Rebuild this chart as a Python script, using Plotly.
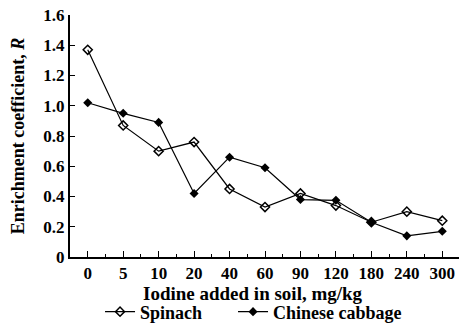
import plotly.graph_objects as go

categories = ["0", "5", "10", "20", "40", "60", "90", "120", "180", "240", "300"]
spinach = [1.37, 0.87, 0.70, 0.76, 0.45, 0.33, 0.42, 0.34, 0.23, 0.30, 0.24]
cabbage = [1.02, 0.95, 0.89, 0.42, 0.66, 0.59, 0.38, 0.375, 0.23, 0.14, 0.17]
y_ticks = [0, 0.2, 0.4, 0.6, 0.8, 1.0, 1.2, 1.4, 1.6]
y_ticktext = ["0", "0.2", "0.4", "0.6", "0.8", "1.0", "1.2", "1.4", "1.6"]
x_title = "Iodine added in soil, mg/kg"
y_title = "Enrichment coefficient, <i>R</i>"

xpos = list(range(len(categories)))
FONT = "Liberation Serif"
TICK_FS = 17
TITLE_FS = 18

fig = go.Figure()
fig.add_trace(go.Scatter(
    x=xpos, y=spinach, name="Spinach", mode="lines+markers", legend="legend",
    line=dict(color="black", width=1.2),
    marker=dict(symbol="diamond-open", size=7, color="black", line=dict(width=1.5, color="black")),
))
fig.add_trace(go.Scatter(
    x=xpos, y=cabbage, name="Chinese cabbage", mode="lines+markers", legend="legend2",
    line=dict(color="black", width=1.2),
    marker=dict(symbol="diamond", size=7, color="black"),
))

legend_common = dict(orientation="h", y=-0.227, yanchor="middle", xanchor="left",
                     font=dict(family=FONT, size=TITLE_FS, color="black", weight="bold"),
                     itemwidth=30, tracegroupgap=0, bgcolor="rgba(0,0,0,0)")

fig.update_layout(
    width=459, height=345,
    margin=dict(l=62, r=7, t=7, b=96),
    paper_bgcolor="white", plot_bgcolor="white",
    font=dict(family=FONT, size=TITLE_FS, color="black"),
    showlegend=True,
    legend=dict(x=0.077, **legend_common),
    legend2=dict(x=0.418, **legend_common),
    annotations=[dict(text=x_title, xref="paper", yref="paper", x=0.469, y=-0.149,
                      xanchor="center", yanchor="middle", showarrow=False,
                      font=dict(family=FONT, size=19, color="black", weight="bold"))],
)
fig.update_xaxes(
    automargin=False,
    range=[-0.5, 10.5], tickmode="array", tickvals=xpos, ticktext=categories,
    showline=True, linecolor="black", linewidth=2, mirror=False,
    showgrid=False, zeroline=False,
    ticks="inside", ticklen=6, tickwidth=1.2, tickcolor="black",
    minor=dict(tick0=-0.5, dtick=1, ticks="inside", ticklen=3, tickwidth=1.2, tickcolor="black", showgrid=False),
    tickfont=dict(family=FONT, size=TICK_FS, color="black", weight="bold"),
    ticklabeloverflow="allow",
)
fig.update_yaxes(
    automargin=False,
    range=[0, 1.6], tickmode="array", tickvals=y_ticks, ticktext=y_ticktext,
    showline=True, linecolor="black", linewidth=2,
    showgrid=False, zeroline=False,
    ticks="inside", ticklen=5, tickwidth=1.2, tickcolor="black",
    tickfont=dict(family=FONT, size=TICK_FS, color="black", weight="bold"),
    ticklabeloverflow="allow",
    title=dict(text=y_title, standoff=14,
               font=dict(family=FONT, size=TITLE_FS, color="black", weight="bold")),
)

fig.write_html("out.html")
